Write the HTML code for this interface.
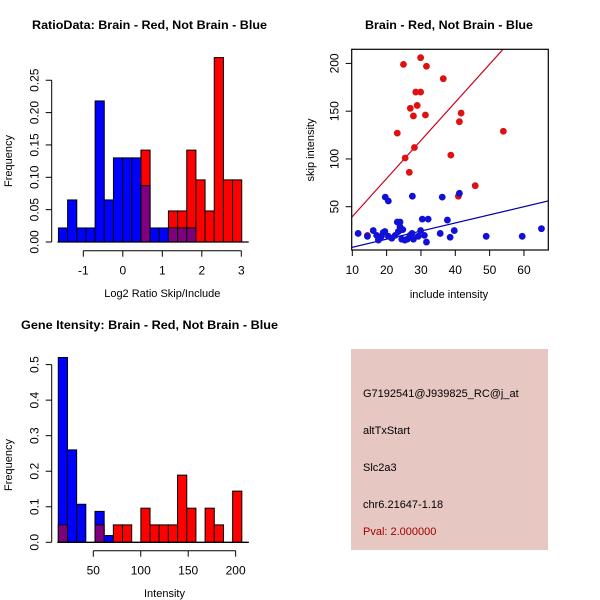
<!DOCTYPE html>
<html><head><meta charset="utf-8"><style>
html,body{margin:0;padding:0;background:#fff;}
svg{display:block;font-family:"Liberation Sans",Arial,sans-serif;}
</style></head><body>
<svg id="s" width="600" height="600" viewBox="0 0 600 600" xmlns="http://www.w3.org/2000/svg">
<rect width="600" height="600" fill="#fff"/>
<text x="32" y="29" font-size="12" font-weight="bold" textLength="235" lengthAdjust="spacingAndGlyphs">RatioData: Brain - Red, Not Brain - Blue</text>
<text x="365" y="29" font-size="12" font-weight="bold" textLength="168" lengthAdjust="spacingAndGlyphs">Brain - Red, Not Brain - Blue</text>
<text x="21" y="329" font-size="12" font-weight="bold" textLength="257" lengthAdjust="spacingAndGlyphs">Gene Itensity: Brain - Red, Not Brain - Blue</text>
<g id="g1"></g>
<g id="g2"></g>
<g id="g3"></g>
<g>
<rect x="351" y="349" width="197" height="201" fill="#e6c7c1"/>
<text x="363" y="397" font-size="11">G7192541@J939825_RC@j_at</text>
<text x="363" y="434" font-size="11">altTxStart</text>
<text x="363" y="471" font-size="11">Slc2a3</text>
<text x="363" y="508" font-size="11">chr6.21647-1.18</text>
<text x="363" y="535" font-size="11" fill="#a00000">Pval: 2.000000</text>
</g>
</svg>
<script>
// ---- data: ratio histogram ----
const ratioBlue=[0.0217,0.065,0.0217,0.0217,0.218,0.065,0.13,0.13,0.13,0.087,0.0217,0.0217,0.0217,0.0217,0.0217,0,0,0,0,0];
const ratioRed=[0,0,0,0,0,0,0,0,0,0.142,0,0,0.048,0.048,0.142,0.096,0.048,0.285,0.096,0.096];
const ratioStart=-1.629, ratioWidth=0.232;
const ratioXTicks=[-1,0,1,2,3];
const ratioYTicks=[0,0.05,0.10,0.15,0.20,0.25];
const ratioYLabels=["0.00","0.05","0.10","0.15","0.20","0.25"];
// ---- data: intensity histogram ----
const intBlue=[0.52,0.26,0.107,0,0.087,0.019,0,0,0,0,0,0,0,0,0,0,0,0,0,0];
const intRed=[0.049,0,0,0,0.049,0,0.049,0.049,0,0.096,0.049,0.049,0.049,0.189,0.096,0,0.096,0.049,0,0.144];
const intStart=13.1, intWidth=9.67;
const intXTicks=[50,100,150,200];
const intYTicks=[0,0.1,0.2,0.3,0.4,0.5];
const intYLabels=["0.0","0.1","0.2","0.3","0.4","0.5"];
// ---- data: scatter ----
const redX=[29.9,24.9,31.6,36.5,28.5,29.9,28.9,26.9,27.8,31.3,41.7,41.2,23.1,54.0,28.1,25.4,38.7,26.6,45.8,40.9,14.4];
const redY=[206,199,197,184,170,170,156,153,145,146,148,139,127,129,112,101,104,86,72,61,20];
const blueX=[11.7,14.4,16.1,17.1,17.6,18.1,18.5,19.0,19.5,19.6,20.5,20.5,21.5,22.5,23.1,23.9,23.4,23.9,24.4,24.7,24.4,25.3,26.0,26.8,27.4,27.5,27.8,29.2,29.9,30.4,31.0,31.6,32.1,35.6,36.2,37.7,38.5,39.7,41.2,49.0,59.5,65.1];
const blueY=[22,19,25,20,15,17,19,23,24,60,56,19,17,20,34,34,24,29,26,26,16,15,16,20,22,61,16,19,25,37,20,13,37,22,60,36,18,25,64,19,19,27];
const redFit=[-0.3,3.99];   // intercept, slope
const blueFit=[-1.0,0.85];
const scXTicks=[10,20,30,40,50,60];
const scYTicks=[50,100,150,200];

const NS="http://www.w3.org/2000/svg";
function mk(parent,tag,attrs){const e=document.createElementNS(NS,tag);for(const k in attrs)e.setAttribute(k,attrs[k]);parent.appendChild(e);return e;}

function hist(g,blue,red,start,w,sx,sy,xt,yt,yl,xAxisY,yAxisX,xlabel,xlabelY,ylabX,ylabY){
  for(let i=0;i<blue.length;i++){
    const x0=sx(start+i*w), x1=sx(start+(i+1)*w);
    const b=blue[i], r=red[i], m=Math.min(b,r);
    const hi=Math.max(b,r);
    if(hi>0){
      const col=b>=r?"#0000ff":"#ff0000";
      const el=mk(g,"rect",{x:x0,y:sy(hi),width:x1-x0,height:sy(0)-sy(hi),fill:col,stroke:"#000","stroke-width":1});
      
      
    }
    if(m>0){
      const el=mk(g,"rect",{x:x0,y:sy(m),width:x1-x0,height:sy(0)-sy(m),fill:"#7f007f",stroke:"#000","stroke-width":1});
      
      
    }
  }
  const base=mk(g,"line",{x1:sx(start)-1,x2:sx(start+blue.length*w)+7,y1:sy(0),y2:sy(0),stroke:"#000","stroke-width":1.3});
  
  
  // x axis
  const xa=mk(g,"g",{});
  
  
  mk(xa,"line",{x1:sx(xt[0]),x2:sx(xt[xt.length-1]),y1:xAxisY,y2:xAxisY,stroke:"#000"});
  xt.forEach(v=>{mk(xa,"line",{x1:sx(v),x2:sx(v),y1:xAxisY,y2:xAxisY+6,stroke:"#000"});
    const t=mk(xa,"text",{x:sx(v),y:xAxisY+24,"font-size":12,"text-anchor":"middle"});t.textContent=String(v);});
  // y axis
  const ya=mk(g,"g",{});
  
  
  mk(ya,"line",{x1:yAxisX,x2:yAxisX,y1:sy(yt[0]),y2:sy(yt[yt.length-1]),stroke:"#000"});
  yt.forEach((v,i)=>{mk(ya,"line",{x1:yAxisX-6,x2:yAxisX,y1:sy(v),y2:sy(v),stroke:"#000"});
    const t=mk(ya,"text",{x:0,y:0,"font-size":12,"text-anchor":"middle",transform:`translate(${yAxisX-13},${sy(v)}) rotate(-90)`});t.textContent=yl[i];});
  const xl=mk(g,"text",{x:sx((xt[0]+xt[xt.length-1])/2)-0,y:xlabelY,"font-size":11,"text-anchor":"middle"});
  xl.textContent=xlabel;
  
  
  const yl2=mk(g,"text",{x:0,y:0,"font-size":11,"text-anchor":"middle",transform:`translate(${ylabX},${ylabY}) rotate(-90)`});
  yl2.textContent="Frequency";
  
  
}

// ratio hist
{
  const sx=v=>83.3+(v+1)*39.5, sy=v=>242-v*647;
  hist(document.getElementById('g1'),ratioBlue,ratioRed,ratioStart,ratioWidth,sx,sy,ratioXTicks,ratioYTicks,ratioYLabels,250.7,51.7,"Log2 Ratio Skip/Include",297,12,161);
}
// intensity hist
{
  const sx=v=>93.3+(v-50)*0.949, sy=v=>542.3-v*355.4;
  hist(document.getElementById('g3'),intBlue,intRed,intStart,intWidth,sx,sy,intXTicks,intYTicks,intYLabels,550.7,51.7,"Intensity",597,12,465);
}
// scatter
{
  const g=document.getElementById('g2');
  const sx=v=>352.3+(v-10)*3.433, sy=v=>206.7-(v-50)*0.9553;
  const L=351.7,R=548.3,T=49.3,B=250;
  mk(g,"clipPath",{id:"cp"}).appendChild(Object.assign(document.createElementNS(NS,"rect"),{}));
  const cr=g.querySelector('#cp').firstChild;cr.setAttribute('x',L);cr.setAttribute('y',T);cr.setAttribute('width',R-L);cr.setAttribute('height',B-T);
  const lines=mk(g,"g",{"clip-path":"url(#cp)"});
  [[redFit,"#cc0022",'red-fit-line'],[blueFit,"#0000aa",'blue-fit-line']].forEach(([f,c,n])=>{
    const x0=0,x1=100;
    const l=mk(lines,"line",{x1:sx(x0),y1:sy(f[0]+f[1]*x0),x2:sx(x1),y2:sy(f[0]+f[1]*x1),stroke:c,"stroke-width":1.2});
    
    
  });
  redX.forEach((x,i)=>{const c=mk(g,"circle",{cx:sx(x),cy:sy(redY[i]),r:3.4,fill:"#e01010"});
    
    });
  blueX.forEach((x,i)=>{const c=mk(g,"circle",{cx:sx(x),cy:sy(blueY[i]),r:3.4,fill:"#1010d8"});
    
    });
  const box=mk(g,"rect",{x:L,y:T,width:R-L,height:B-T,fill:"none",stroke:"#000","stroke-width":1.2});
  
  
  scXTicks.forEach(v=>{mk(g,"line",{x1:sx(v),x2:sx(v),y1:B,y2:B+6,stroke:"#000"});
    const t=mk(g,"text",{x:sx(v),y:B+24,"font-size":12,"text-anchor":"middle"});t.textContent=String(v);});
  scYTicks.forEach(v=>{mk(g,"line",{x1:L-6,x2:L,y1:sy(v),y2:sy(v),stroke:"#000"});
    const t=mk(g,"text",{x:0,y:0,"font-size":12,"text-anchor":"middle",transform:`translate(${L-13},${sy(v)}) rotate(-90)`});t.textContent=String(v);});
  const xl=mk(g,"text",{x:449,y:298,"font-size":11,"text-anchor":"middle"});xl.textContent="include intensity";
  
  
  const yl=mk(g,"text",{x:0,y:0,"font-size":11,"text-anchor":"middle",transform:"translate(314,150) rotate(-90)"});yl.textContent="skip intensity";
  
  
}
</script>
</body></html>
